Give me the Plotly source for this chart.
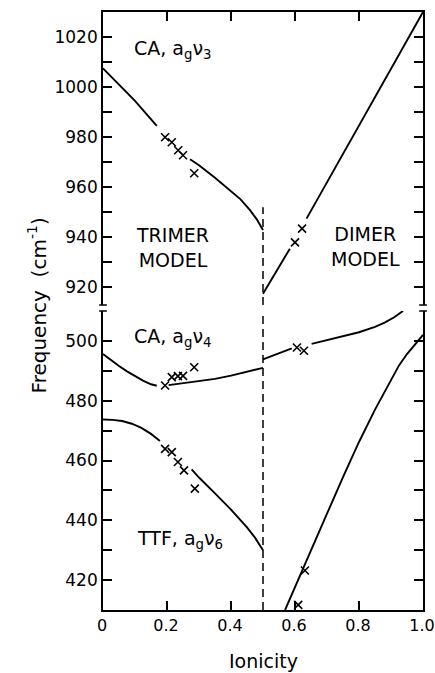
import plotly.graph_objects as go

# ---------------- data ----------------
# CA a_g v3 (upper panel)
ion_v3_trimer = [0, 0.05, 0.1, 0.168, None, 0.272, 0.3, 0.35, 0.4, 0.43, 0.46, 0.48, 0.5]
freq_v3_trimer = [1007.5, 1001, 994.5, 984.5, None, 971.2, 968.8, 963.8, 958.6, 955.2, 950.8, 947.3, 943]
ion_v3_dimer = [0.5, 0.584, None, 0.636, 0.7, 0.8, 0.9, 1.0]
freq_v3_dimer = [917.5, 935.5, None, 947.5, 962, 984.5, 1007, 1030]
ion_v3_obs = [0.194, 0.215, 0.235, 0.25, 0.285, 0.6, 0.622]
freq_v3_obs = [980, 978, 974.8, 972.8, 965.6, 938, 943.5]

# CA a_g v4 (lower panel)
ion_v4_trimer = [0, 0.025, 0.05, 0.075, 0.1, 0.125, 0.15, 0.168, None, 0.205, 0.25, 0.3, 0.35, 0.4, 0.45, 0.5]
freq_v4_trimer = [495.6, 493.5, 491.6, 489.8, 488.2, 486.7, 485.5, 485, None, 485.2, 485.8, 486.6, 487.3, 488.4, 489.7, 491]
ion_v4_dimer = [0.5, 0.55, 0.59, None, 0.652, 0.7, 0.75, 0.8, 0.85, 0.88, 0.91, 0.9375]
freq_v4_dimer = [493.8, 495.8, 497.5, None, 499, 500.2, 501.5, 502.9, 504.7, 506.1, 507.9, 510]
ion_v4_obs = [0.194, 0.215, 0.234, 0.25, 0.285, 0.606, 0.628]
freq_v4_obs = [485.1, 487.9, 488.2, 488.3, 491.2, 497.8, 496.7]

# TTF a_g v6 (lower panel)
ion_v6_trimer = [0, 0.03, 0.06, 0.09, 0.12, 0.15, 0.178, None, 0.277, 0.3, 0.35, 0.4, 0.45, 0.475, 0.5]
freq_v6_trimer = [473.7, 473.6, 473.2, 472.3, 470.9, 468.9, 466.5, None, 457, 454.3, 449, 443.6, 437.6, 434.2, 430]
ion_v6_dimer = [0.569, 0.6, 0.65, 0.7, 0.75, 0.8, 0.85, 0.9, 0.925, 0.95, 0.975, 1.0]
freq_v6_dimer = [410, 417.5, 429.8, 442.2, 454.4, 466.2, 477, 487.2, 491.8, 495.6, 499, 502]
ion_v6_obs = [0.194, 0.215, 0.234, 0.253, 0.287, 0.631, 0.61]
freq_v6_obs = [463.9, 462.8, 459.5, 456.7, 450.6, 423.2, 411.7]

# boundary between trimer and dimer models
ion_boundary = [0.5, 0.5]
freq_boundary_upper = [913, 952]
freq_boundary_lower = [410, 510]

x_tickvals = [0, 0.2, 0.4, 0.6, 0.8, 1.0]
x_ticktext = ["0", "0.2", "0.4", "0.6", "0.8", "1.0"]
upper_tickvals = [920, 930, 940, 950, 960, 970, 980, 990, 1000, 1010, 1020]
lower_tickvals = [420, 430, 440, 450, 460, 470, 480, 490, 500]

# ---------------- figure ----------------
FONT = "DejaVu Sans"
LW = 1.9
fig = go.Figure()

def line(x, y, ax, width=LW):
    fig.add_trace(go.Scatter(x=x, y=y, mode="lines", xaxis=ax[0], yaxis=ax[1],
                             line=dict(color="black", width=width),
                             connectgaps=False, showlegend=False, hoverinfo="skip"))

def crosses(x, y, ax):
    fig.add_trace(go.Scatter(x=x, y=y, mode="markers", xaxis=ax[0], yaxis=ax[1], cliponaxis=False,
                             marker=dict(symbol="x-thin", size=8, line=dict(color="black", width=1.6)),
                             showlegend=False, hoverinfo="skip"))

UP = ("x2", "y2")
LO = ("x", "y")
line(ion_v3_trimer, freq_v3_trimer, UP)
line(ion_v3_dimer, freq_v3_dimer, UP)
crosses(ion_v3_obs, freq_v3_obs, UP)
line(ion_v4_trimer, freq_v4_trimer, LO)
line(ion_v4_dimer, freq_v4_dimer, LO)
crosses(ion_v4_obs, freq_v4_obs, LO)
line(ion_v6_trimer, freq_v6_trimer, LO)
line(ion_v6_dimer, freq_v6_dimer, LO)
crosses(ion_v6_obs, freq_v6_obs, LO)
fig.add_trace(go.Scatter(x=ion_boundary, y=freq_boundary_upper, mode="lines", xaxis="x2", yaxis="y2",
                         line=dict(color="black", width=1.5, dash="8px,5px"), showlegend=False, hoverinfo="skip"))
fig.add_trace(go.Scatter(x=ion_boundary, y=freq_boundary_lower, mode="lines", xaxis="x", yaxis="y",
                         line=dict(color="black", width=1.5, dash="8px,5px"), showlegend=False, hoverinfo="skip"))

axis_common = dict(showline=True, linecolor="black", linewidth=1.7, ticks="inside", ticklen=9,
                   tickwidth=1.5, tickcolor="black", showgrid=False, zeroline=False, automargin=False,
                   ticklabeloverflow="allow")
yfont = dict(family=FONT, size=17, color="black")
xfont = dict(family=FONT, size=16, color="black")

fig.update_layout(
    width=435, height=673,
    margin=dict(l=103, r=12, t=12, b=63, autoexpand=False),
    paper_bgcolor="white", plot_bgcolor="white",
    font=dict(family=FONT, color="black"),
    xaxis=dict(domain=[0, 1], range=[0, 1], anchor="y", side="bottom", tickfont=xfont,
               ticklabelshift=-1, tickvals=x_tickvals, ticktext=x_ticktext, **axis_common),
    xaxis2=dict(domain=[0, 1], range=[0, 1], anchor="y2", side="top", matches="x", tickfont=xfont,
                tickvals=x_tickvals, showticklabels=False, **axis_common),
    yaxis=dict(domain=[0, 0.5], range=[410, 510], anchor="x", mirror="ticks", tickfont=yfont,
               tickvals=lower_tickvals,
               ticktext=[str(v) if v % 20 == 0 else "" for v in lower_tickvals], **axis_common),
    yaxis2=dict(domain=[0.51, 1], range=[913, 1030], anchor="x2", mirror="ticks", tickfont=yfont,
                tickvals=upper_tickvals,
                ticktext=[str(v) if v % 20 == 0 else "" for v in upper_tickvals], **axis_common),
)

ann_font = dict(family=FONT, size=19, color="black")
fig.add_annotation(x=0.09, y=1015, xref="x2", yref="y2", xanchor="left", yanchor="middle",
                   text="CA, a<sub>g</sub>ν<sub>3</sub>", showarrow=False, font=ann_font)
fig.add_annotation(x=0.216, y=936, xref="x2", yref="y2", xanchor="center", yanchor="middle",
                   text="TRIMER<br>MODEL", showarrow=False, font=ann_font)
fig.add_annotation(x=0.82, y=936.5, xref="x2", yref="y2", xanchor="center", yanchor="middle",
                   text="DIMER<br>MODEL", showarrow=False, font=ann_font)
fig.add_annotation(x=0.09, y=501, xref="x", yref="y", xanchor="left", yanchor="middle",
                   text="CA, a<sub>g</sub>ν<sub>4</sub>", showarrow=False, font=ann_font)
fig.add_annotation(x=0.1, y=433.5, xref="x", yref="y", xanchor="left", yanchor="middle",
                   text="TTF, a<sub>g</sub>ν<sub>6</sub>", showarrow=False, font=ann_font)

# axis titles
fig.add_annotation(x=-0.205, y=0.51, xref="paper", yref="paper", xanchor="center", yanchor="middle",
                   textangle=-90, text="Frequency  (cm<sup>-1</sup>)", showarrow=False,
                   font=dict(family=FONT, size=20, color="black"))
fig.add_annotation(x=0.5, y=-0.085, xref="paper", yref="paper", xanchor="center", yanchor="middle",
                   text="Ionicity", showarrow=False, font=dict(family=FONT, size=19, color="black"))

# axis-break marks
for xp in (0, 1):
    for yp in (0.5, 0.51):
        fig.add_shape(type="line", xref="paper", yref="paper", x0=xp - 0.012, x1=xp + 0.012,
                      y0=yp, y1=yp, line=dict(color="black", width=1.5))

fig.write_html("out.html")
